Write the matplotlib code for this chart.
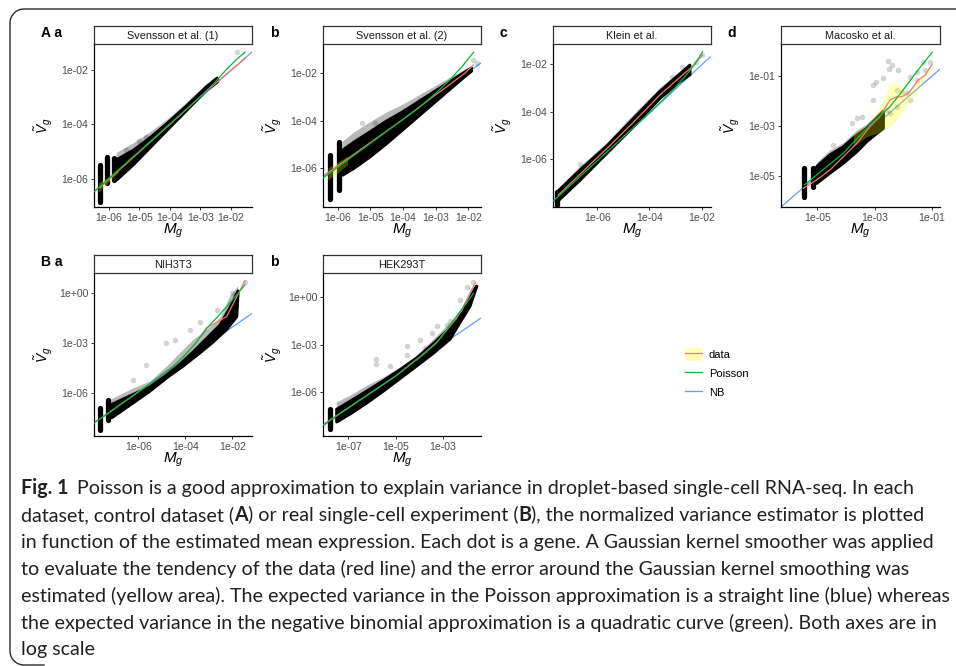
import numpy as np
import matplotlib
matplotlib.use("Agg")
import matplotlib.pyplot as plt
from matplotlib.patches import Patch
from matplotlib.lines import Line2D
from matplotlib.legend_handler import HandlerTuple
from matplotlib.ticker import NullLocator
from matplotlib.transforms import IdentityTransform

plt.rcParams['font.family'] = ['Liberation Sans', 'DejaVu Sans']
plt.rcParams['mathtext.fontset'] = 'custom'
plt.rcParams['mathtext.it'] = 'Liberation Sans:italic'
plt.rcParams['mathtext.rm'] = 'Liberation Sans'

# ---------------------------------------------------------------- data (log10 units)
# Svensson et al. (1)
sv1_xlim = (-6.49, -1.31)
sv1_ylim = (-7.03, -1.05)
sv1_xticks = [-6, -5, -4, -3, -2]
sv1_xlabels = ["1e-06", "1e-05", "1e-04", "1e-03", "1e-02"]
sv1_yticks = [-6, -4, -2]
sv1_ylabels = ["1e-06", "1e-04", "1e-02"]
sv1_stripes = [(-6.30, -6.84, -5.49), (-6.05, -6.15, -5.20), (-5.84, -6.05, -5.25)]
sv1_edge_x = [-5.75, -5.20, -4.66, -4.11, -3.45, -2.80, -2.45]
sv1_halo_y = [-5.05, -4.70, -4.30, -3.85, -3.20, -2.53, -2.25]
sv1_core_y = [-5.30, -4.95, -4.50, -3.98, -3.32, -2.62, -2.30]
sv1_low_y = [-6.04, -5.48, -4.86, -4.23, -3.48, -2.74, -2.45]
sv1_outliers = [(-1.80, -1.34), (-2.60, -2.40), (-4.78, -4.48), (-5.00, -4.62), (-5.45, -4.95)]
sv1_nb_x, sv1_nb_y = [-6.49, -1.31], [-6.47, -1.34]
sv1_pois_x = [-6.49, -3.00, -2.50, -2.14, -1.80, -1.54]
sv1_pois_y = [-6.47, -2.98, -2.43, -1.97, -1.60, -1.35]
sv1_data_x = [-6.30, -4.00, -3.00, -2.20, -1.52]
sv1_data_y = [-6.32, -4.00, -2.98, -2.20, -1.57]
sv1_band_x, sv1_band_lo, sv1_band_hi = [-6.35, -6.00, -5.70], [-6.50, -6.10, -5.78], [-6.15, -5.90, -5.62]

# Svensson et al. (2)
sv2_xlim = (-6.45, -1.61)
sv2_ylim = (-7.64, -0.78)
sv2_xticks = [-6, -5, -4, -3, -2]
sv2_xlabels = ["1e-06", "1e-05", "1e-04", "1e-03", "1e-02"]
sv2_yticks = [-6, -4, -2]
sv2_ylabels = ["1e-06", "1e-04", "1e-02"]
sv2_stripes = [(-6.24, -7.32, -5.45), (-5.95, -6.93, -4.89)]
sv2_edge_x = [-5.85, -5.50, -5.00, -4.50, -4.00, -3.50, -3.00, -2.50, -2.10, -1.90]
sv2_halo_y = [-4.90, -4.51, -4.07, -3.67, -3.33, -2.94, -2.55, -2.16, -1.86, -1.72]
sv2_core_y = [-5.25, -4.91, -4.47, -4.02, -3.63, -3.19, -2.75, -2.31, -1.96, -1.79]
sv2_low_y = [-6.30, -6.01, -5.52, -4.97, -4.38, -3.79, -3.20, -2.61, -2.14, -1.92]
sv2_outliers = [(-5.26, -4.12), (-4.86, -4.12), (-3.94, -3.56), (-3.48, -3.14), (-1.74, -1.59), (-1.85, -1.45)]
sv2_nb_x, sv2_nb_y = [-6.45, -1.61], [-6.34, -1.58]
sv2_pois_x = [-6.45, -3.50, -2.96, -2.56, -2.15, -1.84]
sv2_pois_y = [-6.42, -3.45, -2.81, -2.28, -1.66, -1.13]
sv2_data_x = [-6.40, -4.00, -3.00, -2.50, -2.10, -1.84]
sv2_data_y = [-6.30, -3.95, -2.92, -2.42, -2.00, -1.66]
sv2_band_x, sv2_band_lo, sv2_band_hi = [-6.30, -6.00, -5.70], [-6.50, -6.20, -5.85], [-6.00, -5.75, -5.50]

# Klein et al.
kl_xlim = (-7.70, -1.64)
kl_ylim = (-8.00, -1.16)
kl_xticks = [-6, -4, -2]
kl_xlabels = ["1e-06", "1e-04", "1e-02"]
kl_yticks = [-6, -4, -2]
kl_ylabels = ["1e-06", "1e-04", "1e-02"]
kl_stripes = [(-7.55, -7.90, -7.35)]
kl_edge_x = [-7.56, -6.66, -5.64, -4.62, -3.60, -2.83, -2.45]
kl_halo_y = [-7.29, -6.31, -5.33, -4.14, -3.02, -2.32, -1.97]
kl_core_y = [-7.40, -6.45, -5.45, -4.30, -3.15, -2.42, -2.05]
kl_low_y = [-7.80, -6.87, -5.75, -4.63, -3.44, -2.74, -2.45]
kl_outliers = [(-2.77, -2.11), (-2.00, -1.62), (-3.15, -2.53), (-4.24, -3.95), (-6.66, -6.20), (-2.20, -1.90)]
kl_nb_x, kl_nb_y = [-7.69, -1.67], [-7.80, -1.70]
kl_pois_x = [-7.69, -4.00, -3.00, -2.50, -2.20, -1.96]
kl_pois_y = [-7.75, -4.05, -2.98, -2.34, -1.91, -1.48]
kl_data_x = [-7.50, -5.64, -4.62, -3.60, -2.83, -2.40, -1.96]
kl_data_y = [-7.50, -5.55, -4.45, -3.30, -2.55, -2.15, -1.62]

# Macosko et al.
mc_xlim = (-6.27, -0.71)
mc_ylim = (-6.26, 0.29)
mc_xticks = [-5, -3, -1]
mc_xlabels = ["1e-05", "1e-03", "1e-01"]
mc_yticks = [-5, -3, -1]
mc_ylabels = ["1e-05", "1e-03", "1e-01"]
mc_stripes = [(-5.45, -5.84, -4.70), (-5.14, -5.44, -4.70)]
mc_edge_x = [-5.02, -4.56, -4.09, -3.62, -3.27, -2.92, -2.69]
mc_halo_y = [-4.50, -4.00, -3.70, -3.20, -2.95, -2.55, -2.30]
mc_core_y = [-4.64, -4.17, -3.84, -3.37, -3.10, -2.69, -2.43]
mc_low_y = [-5.31, -4.90, -4.50, -4.04, -3.63, -3.30, -3.10]
mc_outliers = [(-2.52, -0.39), (-2.40, -0.55), (-2.49, -0.71), (-2.17, -0.76), (-2.69, -1.09),
               (-2.96, -1.22), (-3.04, -1.36), (-3.04, -1.96), (-3.80, -2.90), (-3.62, -2.69),
               (-3.45, -2.65), (-4.44, -3.77), (-1.29, -0.42), (-1.06, -0.42), (-1.23, -0.76),
               (-1.52, -0.82), (-1.76, -1.02), (-2.22, -1.56), (-1.87, -1.69), (-2.05, -1.63),
               (-2.57, -2.36), (-2.46, -2.49), (-2.22, -2.23), (-1.76, -1.96), (-1.52, -1.16)]
mc_nb_x, mc_nb_y = [-6.27, -0.71], [-6.26, -0.72]
mc_pois_x = [-5.45, -4.09, -3.16, -2.46, -2.00, -1.52, -0.98]
mc_pois_y = [-5.37, -4.10, -2.96, -2.23, -1.56, -0.82, -0.04]
mc_data_x = [-5.49, -5.02, -4.56, -4.09, -3.62, -3.16, -2.81, -2.46, -2.22, -2.05, -1.82,
             -1.64, -1.47, -1.23, -1.00]
mc_data_y = [-5.51, -5.17, -4.77, -4.24, -3.70, -3.03, -2.63, -1.96, -1.83, -1.83, -1.69,
             -1.43, -1.16, -0.96, -0.55]
mc_band_x = [-3.74, -3.27, -2.92, -2.69, -2.52, -2.40, -2.22, -2.05, -1.87, -1.76, -1.52, -1.29, -1.06]
mc_band_hi = [-3.30, -3.03, -2.49, -1.96, -1.43, -1.22, -1.29, -1.49, -1.69, -1.63, -1.29, -0.96, -0.62]
mc_band_lo = [-3.84, -3.43, -3.30, -3.16, -3.05, -2.96, -2.76, -2.45, -2.15, -1.96, -1.63, -1.16, -0.82]

# NIH3T3
nih_xlim = (-7.89, -1.16)
nih_ylim = (-8.60, 1.18)
nih_xticks = [-6, -4, -2]
nih_xlabels = ["1e-06", "1e-04", "1e-02"]
nih_yticks = [-6, -3, 0]
nih_ylabels = ["1e-06", "1e-03", "1e+00"]
nih_stripes = [(-7.63, -8.24, -6.94), (-7.28, -7.64, -6.44)]
nih_edge_x = [-7.20, -6.21, -5.50, -4.79, -4.23, -3.66, -3.09, -2.52, -2.10, -1.75]
nih_halo_y = [-6.44, -5.74, -5.34, -4.44, -3.64, -2.84, -2.24, -1.54, -0.24, 0.40]
nih_core_y = [-6.75, -6.10, -5.65, -4.95, -4.30, -3.55, -2.75, -1.95, -0.90, 0.10]
nih_low_x = [-7.13, -6.21, -5.50, -4.79, -4.09, -3.37, -2.81, -2.24, -1.81]
nih_low_y = [-7.50, -6.60, -5.90, -5.10, -4.40, -3.60, -2.95, -2.20, -1.44]
nih_outliers = [(-5.69, -4.34), (-6.21, -5.24), (-4.83, -3.04), (-3.80, -2.24), (-3.37, -1.74),
                (-2.66, -1.04), (-2.03, -0.04), (-1.46, 0.66), (-4.44, -2.84)]
nih_nb_x, nih_nb_y = [-7.89, -1.16], [-7.80, -1.25]
nih_pois_x = [-7.88, -5.50, -4.50, -4.09, -3.60, -3.09, -2.60, -2.24, -1.46]
nih_pois_y = [-7.82, -5.45, -4.40, -3.86, -3.10, -2.15, -1.40, -0.84, 0.46]
nih_data_x = [-7.60, -5.50, -4.50, -4.09, -3.60, -3.09, -2.24, -1.46]
nih_data_y = [-7.55, -5.45, -4.40, -3.84, -3.10, -2.10, -1.44, 0.72]

# HEK293T
hek_xlim = (-8.07, -1.38)
hek_ylim = (-8.79, 1.53)
hek_xticks = [-7, -5, -3]
hek_xlabels = ["1e-07", "1e-05", "1e-03"]
hek_yticks = [-6, -3, 0]
hek_ylabels = ["1e-06", "1e-03", "1e+00"]
hek_stripes = [(-7.78, -8.35, -7.09)]
hek_edge_x = [-7.49, -6.93, -6.22, -5.52, -4.81, -4.10, -3.40, -2.69, -2.13, -1.70]
hek_halo_y = [-6.67, -6.25, -5.62, -5.10, -4.47, -3.74, -2.69, -1.64, -0.59, 0.67]
hek_core_y = [-7.10, -6.60, -5.95, -5.30, -4.60, -3.85, -2.95, -1.95, -0.95, 0.35]
hek_low_x = [-7.49, -6.93, -6.22, -5.52, -4.81, -4.10, -3.40, -2.69, -2.27, -1.84, -1.56]
hek_low_y = [-7.90, -7.40, -6.70, -5.95, -5.15, -4.35, -3.55, -2.65, -1.60, -0.55, 0.70]
hek_outliers = [(-5.83, -3.90), (-5.83, -4.26), (-4.53, -3.11), (-4.53, -3.63), (-3.96, -2.69),
                (-3.25, -1.85), (-2.69, -1.53), (-2.27, -0.17), (-1.98, 0.67), (-1.70, 0.98),
                (-5.23, -4.36), (-3.75, -3.21), (-3.47, -2.26), (-2.83, -1.74)]
hek_nb_x, hek_nb_y = [-8.06, -1.38], [-8.14, -1.32]
hek_pois_x = [-8.06, -5.00, -3.82, -3.25, -2.41, -1.70]
hek_pois_y = [-8.10, -5.00, -3.63, -2.89, -1.22, 0.25]
hek_data_x = [-8.00, -5.00, -3.82, -3.25, -2.41, -2.13, -1.63]
hek_data_y = [-8.00, -5.00, -3.60, -2.85, -1.33, -0.59, 0.88]

strip_titles = ["Svensson et al. (1)", "Svensson et al. (2)", "Klein et al.",
                "Macosko et al.", "NIH3T3", "HEK293T"]
panel_tags = ["A a", "b", "c", "d", "B a", "b"]
legend_labels = ["data", "Poisson", "NB"]

COL_DATA = "#F8766D"
COL_POIS = "#00BA38"
COL_NB = "#619CFF"

panels = [
    dict(xlim=sv1_xlim, ylim=sv1_ylim, xt=sv1_xticks, xl=sv1_xlabels, yt=sv1_yticks, yl=sv1_ylabels,
         stripes=sv1_stripes, hx=sv1_edge_x, hy=sv1_halo_y, cx=sv1_edge_x, cy=sv1_core_y,
         lx=sv1_edge_x, ly=sv1_low_y, out=sv1_outliers, nb=(sv1_nb_x, sv1_nb_y),
         pois=(sv1_pois_x, sv1_pois_y), data=(sv1_data_x, sv1_data_y),
         band=(sv1_band_x, sv1_band_lo, sv1_band_hi)),
    dict(xlim=sv2_xlim, ylim=sv2_ylim, xt=sv2_xticks, xl=sv2_xlabels, yt=sv2_yticks, yl=sv2_ylabels,
         stripes=sv2_stripes, hx=sv2_edge_x, hy=sv2_halo_y, cx=sv2_edge_x, cy=sv2_core_y,
         lx=sv2_edge_x, ly=sv2_low_y, out=sv2_outliers, nb=(sv2_nb_x, sv2_nb_y),
         pois=(sv2_pois_x, sv2_pois_y), data=(sv2_data_x, sv2_data_y),
         band=(sv2_band_x, sv2_band_lo, sv2_band_hi)),
    dict(xlim=kl_xlim, ylim=kl_ylim, xt=kl_xticks, xl=kl_xlabels, yt=kl_yticks, yl=kl_ylabels,
         stripes=kl_stripes, hx=kl_edge_x, hy=kl_halo_y, cx=kl_edge_x, cy=kl_core_y,
         lx=kl_edge_x, ly=kl_low_y, out=kl_outliers, nb=(kl_nb_x, kl_nb_y),
         pois=(kl_pois_x, kl_pois_y), data=(kl_data_x, kl_data_y), band=None),
    dict(xlim=mc_xlim, ylim=mc_ylim, xt=mc_xticks, xl=mc_xlabels, yt=mc_yticks, yl=mc_ylabels,
         stripes=mc_stripes, hx=mc_edge_x, hy=mc_halo_y, cx=mc_edge_x, cy=mc_core_y,
         lx=mc_edge_x, ly=mc_low_y, out=mc_outliers, nb=(mc_nb_x, mc_nb_y),
         pois=(mc_pois_x, mc_pois_y), data=(mc_data_x, mc_data_y),
         band=(mc_band_x, mc_band_lo, mc_band_hi)),
    dict(xlim=nih_xlim, ylim=nih_ylim, xt=nih_xticks, xl=nih_xlabels, yt=nih_yticks, yl=nih_ylabels,
         stripes=nih_stripes, hx=nih_edge_x, hy=nih_halo_y, cx=nih_edge_x, cy=nih_core_y,
         lx=nih_low_x, ly=nih_low_y, out=nih_outliers, nb=(nih_nb_x, nih_nb_y),
         pois=(nih_pois_x, nih_pois_y), data=(nih_data_x, nih_data_y), band=None),
    dict(xlim=hek_xlim, ylim=hek_ylim, xt=hek_xticks, xl=hek_xlabels, yt=hek_yticks, yl=hek_ylabels,
         stripes=hek_stripes, hx=hek_edge_x, hy=hek_halo_y, cx=hek_edge_x, cy=hek_core_y,
         lx=hek_low_x, ly=hek_low_y, out=hek_outliers, nb=(hek_nb_x, hek_nb_y),
         pois=(hek_pois_x, hek_pois_y), data=(hek_data_x, hek_data_y), band=None),
]

caption_lines = [
    [("Fig. 1", True), ("Poisson is a good approximation to explain variance in droplet-based single-cell RNA-seq. In each", False)],
    [("dataset, control dataset (", False), ("A", True), (") or real single-cell experiment (", False), ("B", True),
     ("), the normalized variance estimator is plotted", False)],
    [("in function of the estimated mean expression. Each dot is a gene. A Gaussian kernel smoother was applied", False)],
    [("to evaluate the tendency of the data (red line) and the error around the Gaussian kernel smoothing was", False)],
    [("estimated (yellow area). The expected variance in the Poisson approximation is a straight line (blue) whereas", False)],
    [("the expected variance in the negative binomial approximation is a quadratic curve (green). Both axes are in", False)],
    [("log scale", False)],
]

# ---------------------------------------------------------------- layout
W, H, DPI = 956, 666, 100
fig = plt.figure(figsize=(W / DPI, H / DPI), dpi=DPI)
fig.patch.set_facecolor("white")

# open frame: top edge, rounded top-left corner, left edge, rounded bottom-left corner
R, FX, FTOP, FBOT = 14.0, 10.0, H - 9.0, 1.0
a1 = np.linspace(np.pi / 2, np.pi, 20)
a2 = np.linspace(np.pi, 1.5 * np.pi, 20)
fx = np.concatenate([[W], FX + R + R * np.cos(a1), FX + R + R * np.cos(a2), [FX + R + 20]])
fy = np.concatenate([[FTOP], FTOP - R + R * np.sin(a1), FBOT + R + R * np.sin(a2), [FBOT]])
fig.add_artist(Line2D(fx, fy, transform=IdentityTransform(), color="#2b2b2b", lw=1.0))

# axes boxes in pixels: (left, top, right, bottom)
boxes = [(94, 44, 252, 207), (323, 44, 481, 207), (553, 44, 711, 207), (781, 44, 940, 207),
         (94, 273, 252, 436), (323, 273, 481, 436)]
tag_pos = [(41, 37), (270, 37), (499, 37), (727, 37), (41, 266), (270, 266)]
STRIP_H = 18


def tens(v):
    return np.power(10.0, np.asarray(v, dtype=float))


def draw_panel(ax, p):
    ax.set_xscale("log")
    ax.set_yscale("log")
    ax.set_xlim(tens(p["xlim"]))
    ax.set_ylim(tens(p["ylim"]))
    # NB expectation sits underneath the gene cloud
    ax.plot(tens(p["nb"][0]), tens(p["nb"][1]), color=COL_NB, lw=0.9, zorder=1)
    # gene cloud: translucent halo and dense core
    hx = np.concatenate([p["hx"], p["lx"][::-1]])
    hy = np.concatenate([p["hy"], p["ly"][::-1]])
    ax.fill(tens(hx), tens(hy), color="black", alpha=0.28, lw=0, zorder=2)
    cx = np.concatenate([p["cx"], p["lx"][::-1]])
    cy = np.concatenate([p["cy"], p["ly"][::-1]])
    ax.fill(tens(cx), tens(cy), fc="black", ec="black", lw=2.2, joinstyle="round", zorder=2.2)
    for x, lo, hi in p["stripes"]:
        ax.plot(tens([x, x]), tens([lo, hi]), color="black", lw=3.8,
                solid_capstyle="round", zorder=2.3)
    ox, oy = zip(*p["out"])
    ax.scatter(tens(ox), tens(oy), s=16, color="black", alpha=0.17, lw=0, zorder=2.4)
    if p["band"] is not None:
        bx, blo, bhi = p["band"]
        ax.fill_between(tens(bx), tens(blo), tens(bhi), color="yellow", alpha=0.28, lw=0, zorder=3)
    ax.plot(tens(p["data"][0]), tens(p["data"][1]), color=COL_DATA, lw=0.9, zorder=4)
    ax.plot(tens(p["pois"][0]), tens(p["pois"][1]), color=COL_POIS, lw=0.9, zorder=5)

    ax.set_xticks(tens(p["xt"]))
    ax.set_xticklabels(p["xl"])
    ax.set_yticks(tens(p["yt"]))
    ax.set_yticklabels(p["yl"])
    ax.xaxis.set_minor_locator(NullLocator())
    ax.yaxis.set_minor_locator(NullLocator())
    for s in ("top", "right"):
        ax.spines[s].set_visible(False)
    for s in ("left", "bottom"):
        ax.spines[s].set_linewidth(0.9)
        ax.spines[s].set_color("black")
    ax.tick_params(direction="out", length=2.5, width=0.7, color="#333333",
                   labelsize=7.6, labelcolor="#4D4D4D", pad=1.5)
    ax.set_xlabel(r"$M_g$", fontsize=11)
    ax.set_ylabel(r"$\tilde{V}_g$", fontsize=10)


for i, (p, (l, t, r, b)) in enumerate(zip(panels, boxes)):
    ax = fig.add_axes([l / W, 1 - b / H, (r - l) / W, (b - t) / H])
    draw_panel(ax, p)
    ax.xaxis.set_label_coords(0.5, -14.5 / (b - t))
    ax.yaxis.set_label_coords(-39.0 / (r - l), 0.5)
    sx = fig.add_axes([l / W, 1 - t / H, (r - l) / W, STRIP_H / H])
    sx.set_xticks([])
    sx.set_yticks([])
    for s in sx.spines.values():
        s.set_linewidth(0.9)
        s.set_color("#333333")
    sx.text(0.5, 0.45, strip_titles[i], ha="center", va="center", fontsize=7.8, color="#1a1a1a",
            transform=sx.transAxes)
    tx, ty = tag_pos[i]
    fig.text(tx / W, 1 - ty / H, panel_tags[i], fontsize=10, fontweight="bold", ha="left",
             va="baseline")

# legend
handles = [(Patch(fc="yellow", alpha=0.28, lw=0), Line2D([], [], color=COL_DATA, lw=0.9)),
           Line2D([], [], color=COL_POIS, lw=0.9),
           Line2D([], [], color=COL_NB, lw=0.9)]
fig.legend(handles, legend_labels, handler_map={tuple: HandlerTuple(ndivide=1, pad=0)},
           loc="upper left", bbox_to_anchor=(685 / W, 1 - 348 / H), frameon=False,
           fontsize=8, handlelength=1.5, handleheight=1.45, labelspacing=0.5,
           handletextpad=0.65, borderpad=0, borderaxespad=0)

# caption
CAP_FONT = ["Lato", "DejaVu Sans"]
CAP_COLOR = "#231F20"
renderer = fig.canvas.get_renderer()


def text_width(s, bold, size):
    t = fig.text(0, 0, s, fontsize=size, fontweight="bold" if bold else "normal", family=CAP_FONT)
    w = t.get_window_extent(renderer).width
    t.remove()
    return w


BASE = 12.0
GAP_EM = 0.45
first = caption_lines[0]
w0 = sum(text_width(s, b, BASE) for s, b in first) + GAP_EM * BASE * DPI / 72
size = BASE * (911 - 21) / w0
gap = GAP_EM * size * DPI / 72
for k, line in enumerate(caption_lines):
    x = 21.0
    y = 494 + 26.9 * k
    for j, (s, bold) in enumerate(line):
        fig.text(x / W, 1 - y / H, s, fontsize=size, fontweight="bold" if bold else "normal",
                 family=CAP_FONT, color=CAP_COLOR, ha="left", va="baseline")
        x += text_width(s, bold, size)
        if k == 0 and j == 0:
            x += gap

fig.savefig("out.png", dpi=DPI, facecolor="white")
